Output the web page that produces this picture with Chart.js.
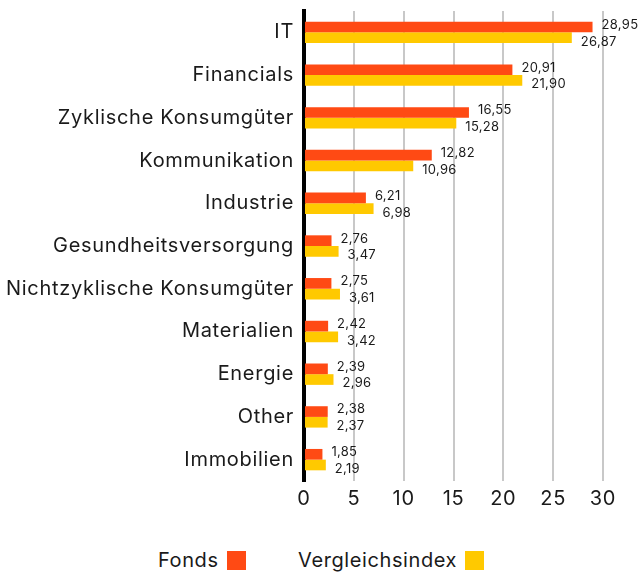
<!DOCTYPE html>
<html>
<head>
<meta charset="utf-8">
<script src="https://cdn.jsdelivr.net/npm/chart.js@4"></script>
<style>
	body { margin: 0; background: #fff; font-family: Inter, "Noto Sans", sans-serif; }
	#wrap { position: relative; width: 642px; height: 525px; }
	#legende { position: absolute; top: 548px; left: 0; width: 642px; height: 24px; color: #1a1a1a; font-size: 20px; letter-spacing: 0.6px; }
	.item { position: absolute; top: 0; display: flex; align-items: center; }
	.box { display: inline-block; width: 19px; height: 19px; margin-left: 8px; }
</style>
</head>
<body>
<div id="wrap"><canvas id="myChart"></canvas></div>
<div id="legende">
	<div class="item" style="left:158px">Fonds<span class="box" style="background:#ff4a14"></span></div>
	<div class="item" style="left:298px">Vergleichsindex<span class="box" style="background:#ffc900"></span></div>
</div>
<script>
const sektoren = ["IT", "Financials", "Zyklische Konsumgüter", "Kommunikation", "Industrie",
	"Gesundheitsversorgung", "Nichtzyklische Konsumgüter", "Materialien", "Energie", "Other", "Immobilien"];
const werteFonds = [28.95, 20.91, 16.55, 12.82, 6.21, 2.76, 2.75, 2.42, 2.39, 2.38, 1.85];
const werteIndex = [26.87, 21.90, 15.28, 10.96, 6.98, 3.47, 3.61, 3.42, 2.96, 2.37, 2.19];
const xTicks = [0, 5, 10, 15, 20, 25, 30];

const farben = ['#ff4a14', '#ffc900'];
const schrift = 'Inter, "Noto Sans", sans-serif';

// etwas Buchstabenabstand wie im Original
const abstand = {
	id: 'abstand',
	beforeDraw(chart) { chart.ctx.letterSpacing = '0.7px'; }
};

// Werte rechts neben die Balken schreiben
const wertLabels = {
	id: 'wertLabels',
	afterDatasetsDraw(chart) {
		const ctx = chart.ctx;
		ctx.save();
		ctx.letterSpacing = '0.3px';
		ctx.font = '13px ' + schrift;
		ctx.fillStyle = '#1a1a1a';
		ctx.textBaseline = 'middle';
		ctx.textAlign = 'left';
		chart.data.datasets.forEach(function(ds, i) {
			chart.getDatasetMeta(i).data.forEach(function(bar, j) {
				var txt = ds.data[j].toFixed(2).replace('.', ',');
				var dy = i === 0 ? -2 : 4;
				ctx.fillText(txt, bar.x + 9, bar.y + dy);
			});
		});
		ctx.restore();
	}
};

new Chart("myChart", {
	type: "bar",
	data: {
		labels: sektoren,
		datasets: [
			{ label: 'Fonds', backgroundColor: farben[0], data: werteFonds },
			{ label: 'Vergleichsindex', backgroundColor: farben[1], data: werteIndex }
		]
	},
	options: {
		indexAxis: 'y',
		responsive: true,
		maintainAspectRatio: false,
		animation: false,
		categoryPercentage: 0.5,
		barPercentage: 1,
		layout: { padding: { top: 11, right: 39, left: 0, bottom: 0 } },
		plugins: {
			legend: { display: false },
			tooltip: { enabled: false }
		},
		scales: {
			x: {
				min: 0,
				max: 30,
				afterBuildTicks(scale) { scale.ticks = xTicks.map(v => ({ value: v })); },
				grid: { color: '#c8c8c8', lineWidth: 2, drawTicks: false },
				border: { display: false },
				ticks: { color: '#1a1a1a', font: { size: 20, family: schrift }, padding: 6 },
				afterFit(scale) { scale.height = 44; }
			},
			y: {
				grid: { display: false },
				border: { color: '#000', width: 4 },
				ticks: { color: '#1a1a1a', font: { size: 20, family: schrift }, padding: 2 },
				afterFit(scale) {
					scale.width = 304;
					scale.paddingTop = 0;
					scale.paddingBottom = 0;
				}
			}
		}
	},
	plugins: [abstand, wertLabels]
});
</script>
</body>
</html>
